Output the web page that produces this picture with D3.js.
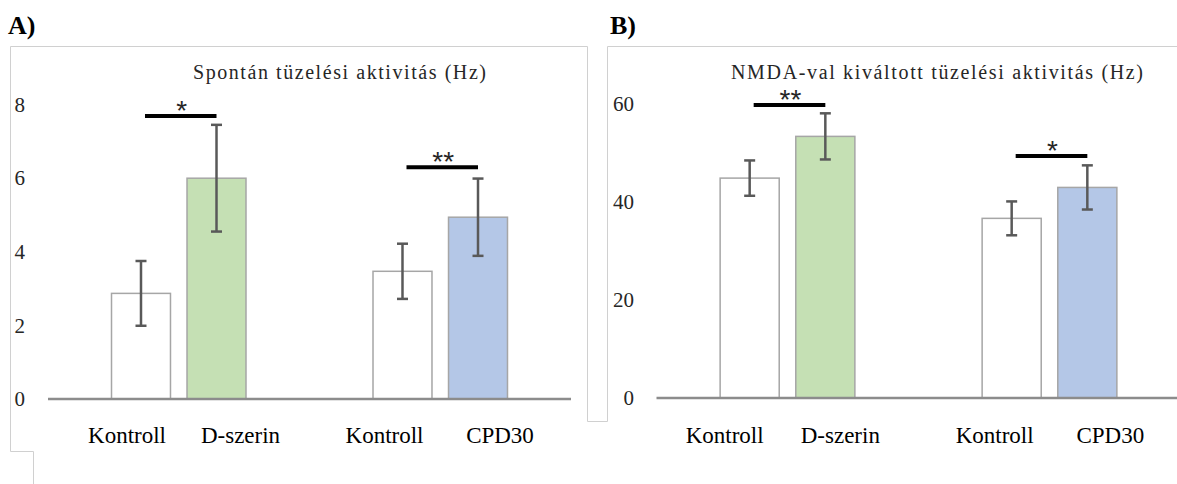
<!DOCTYPE html>
<html>
<head>
<meta charset="utf-8">
<script src="https://cdn.jsdelivr.net/npm/d3@7"></script>
<style>
  html, body { margin: 0; padding: 0; background: #fff; }
  svg { display: block; }
</style>
</head>
<body>
<svg id="chart" width="1177" height="484"></svg>
<script>
// ---------------- DATA ----------------
const categories = ["Kontroll", "D-szerin", "Kontroll", "CPD30"];
const groups = ["g1", "g2"];
const groupOfCategory = [0, 0, 1, 1];

const spontTitle = "Spontán tüzelési  aktivitás  (Hz)";
const spontMeans = [2.87, 6.0, 3.47, 4.94];
const spontErrors = [0.88, 1.45, 0.75, 1.05];
const spontTicks = [0, 2, 4, 6, 8];
const spontSigFrom = [0, 2];
const spontSigTo = [1, 3];
const spontSigLevel = [7.69, 6.30];
const spontSigLabel = ["*", "**"];

const nmdaTitle = "NMDA-val  kiváltott  tüzelési aktivitás  (Hz)";
const nmdaMeans = [44.8, 53.3, 36.6, 42.9];
const nmdaErrors = [3.6, 4.7, 3.45, 4.5];
const nmdaTicks = [0, 20, 40, 60];
const nmdaSigFrom = [0, 2];
const nmdaSigTo = [1, 3];
const nmdaSigLevel = [59.7, 49.3];
const nmdaSigLabel = ["**", "*"];

// ---------------- STYLE / LAYOUT ----------------
const fills = ["#ffffff", "#c5e0b4", "#ffffff", "#b4c7e7"];
const serif = "'Liberation Serif', Tinos, 'Times New Roman', 'DejaVu Serif', 'Noto Serif', serif";
const sans = "'Liberation Sans', Arimo, Arial, 'DejaVu Sans', sans-serif";

const svg = d3.select("#chart");

// panel frames (partially cropped boxes as in the source)
svg.append("path")
  .attr("d", "M33.5,484 V451.5 H10.5 V46.5 H587.5 V421.5 H607.5 V46.5 H1177")
  .attr("fill", "none")
  .attr("stroke", "#d0d0d0")
  .attr("stroke-width", 1);

// panel letters
svg.append("text").attr("x", 8).attr("y", 34)
  .style("font-family", serif).style("font-weight", "bold").style("font-size", "26px")
  .attr("fill", "#000").text("A)");
svg.append("text").attr("x", 610).attr("y", 34)
  .style("font-family", serif).style("font-weight", "bold").style("font-size", "26px")
  .attr("fill", "#000").text("B)");

function drawPanel(cfg) {
  const g = svg.append("g");

  const y = d3.scaleLinear().domain(cfg.domain).range([cfg.zeroY, cfg.topY]);
  const outer = d3.scaleBand().domain(groups).range([cfg.x0, cfg.x1]).padding(0);
  const inner = d3.scaleBand().domain([0, 1]).range([0, outer.bandwidth()])
    .paddingInner(0.219).paddingOuter(0.841);

  const barX = i => outer(groups[groupOfCategory[i]]) + inner(i % 2);
  const barC = i => barX(i) + inner.bandwidth() / 2;

  // title
  g.append("text")
    .attr("x", cfg.titleX).attr("y", 79)
    .attr("text-anchor", "middle")
    .style("font-family", serif).style("font-size", "20px")
    .attr("textLength", cfg.titleW).attr("lengthAdjust", "spacing")
    .attr("fill", "#262626")
    .text(cfg.title);

  // y axis labels (no line, no ticks)
  const ax = g.append("g")
    .attr("transform", `translate(${cfg.tickX},0)`)
    .call(d3.axisLeft(y).tickValues(cfg.ticks).tickSize(0).tickPadding(0).tickFormat(d3.format("d")));
  ax.select(".domain").remove();
  ax.attr("font-family", null).attr("font-size", null);
  ax.selectAll("text")
    .style("font-family", serif).style("font-size", "21px").attr("fill", "#262626");

  // bars
  g.selectAll("rect.bar").data(cfg.means).join("rect")
    .attr("class", "bar")
    .attr("x", (d, i) => barX(i))
    .attr("width", inner.bandwidth())
    .attr("y", d => y(d))
    .attr("height", d => y(0) - y(d))
    .attr("fill", (d, i) => fills[i])
    .attr("stroke", "#a6a6a6")
    .attr("stroke-width", 1.5);

  // baseline
  g.append("line")
    .attr("x1", cfg.x0).attr("x2", cfg.lineEnd)
    .attr("y1", y(0)).attr("y2", y(0))
    .attr("stroke", "#8c8c8c").attr("stroke-width", 2.5);

  // error bars
  const eb = g.selectAll("g.err").data(cfg.means).join("g").attr("class", "err")
    .attr("stroke", "#595959").attr("stroke-width", 2.5);
  eb.append("line")
    .attr("x1", (d, i) => barC(i)).attr("x2", (d, i) => barC(i))
    .attr("y1", (d, i) => y(d + cfg.errors[i])).attr("y2", (d, i) => y(d - cfg.errors[i]));
  eb.append("line")
    .attr("x1", (d, i) => barC(i) - 5.5).attr("x2", (d, i) => barC(i) + 5.5)
    .attr("y1", (d, i) => y(d + cfg.errors[i])).attr("y2", (d, i) => y(d + cfg.errors[i]));
  eb.append("line")
    .attr("x1", (d, i) => barC(i) - 5.5).attr("x2", (d, i) => barC(i) + 5.5)
    .attr("y1", (d, i) => y(d - cfg.errors[i])).attr("y2", (d, i) => y(d - cfg.errors[i]));

  // significance bars + stars
  cfg.sigLevel.forEach((lvl, k) => {
    const xa = barC(cfg.sigFrom[k]) + 4;
    const xb = barC(cfg.sigTo[k]);
    g.append("line")
      .attr("x1", xa).attr("x2", xb)
      .attr("y1", y(lvl)).attr("y2", y(lvl))
      .attr("stroke", "#000").attr("stroke-width", 4);
    g.append("text")
      .attr("x", (xa + xb) / 2 + 1)
      .attr("y", y(lvl) + 4)
      .attr("text-anchor", "middle")
      .style("font-family", sans).style("font-size", "28px")
      .attr("fill", "#262626")
      .text(cfg.sigLabel[k]);
  });

  // category labels
  categories.forEach((c, i) => {
    g.append("text")
      .attr("x", barC(i) + cfg.labelShift[i])
      .attr("y", 443)
      .attr("text-anchor", "middle")
      .style("font-family", serif).style("font-size", "23px")
      .attr("fill", "#000")
      .text(c);
  });
}

drawPanel({
  title: spontTitle, titleX: 339.5, titleW: 293,
  domain: [0, 8], zeroY: 399, topY: 104.6,
  x0: 48, x1: 571, lineEnd: 571, tickX: 25,
  ticks: spontTicks, means: spontMeans, errors: spontErrors,
  sigFrom: spontSigFrom, sigTo: spontSigTo, sigLevel: spontSigLevel, sigLabel: spontSigLabel,
  labelShift: [-14, 24, -18, 22]
});

drawPanel({
  title: nmdaTitle, titleX: 937, titleW: 412,
  domain: [0, 60], zeroY: 398, topY: 103.5,
  x0: 656.5, x1: 1180.5, lineEnd: 1177, tickX: 634,
  ticks: nmdaTicks, means: nmdaMeans, errors: nmdaErrors,
  sigFrom: nmdaSigFrom, sigTo: nmdaSigTo, sigLevel: nmdaSigLevel, sigLabel: nmdaSigLabel,
  labelShift: [-25, 15, -17, 23]
});
</script>
</body>
</html>
